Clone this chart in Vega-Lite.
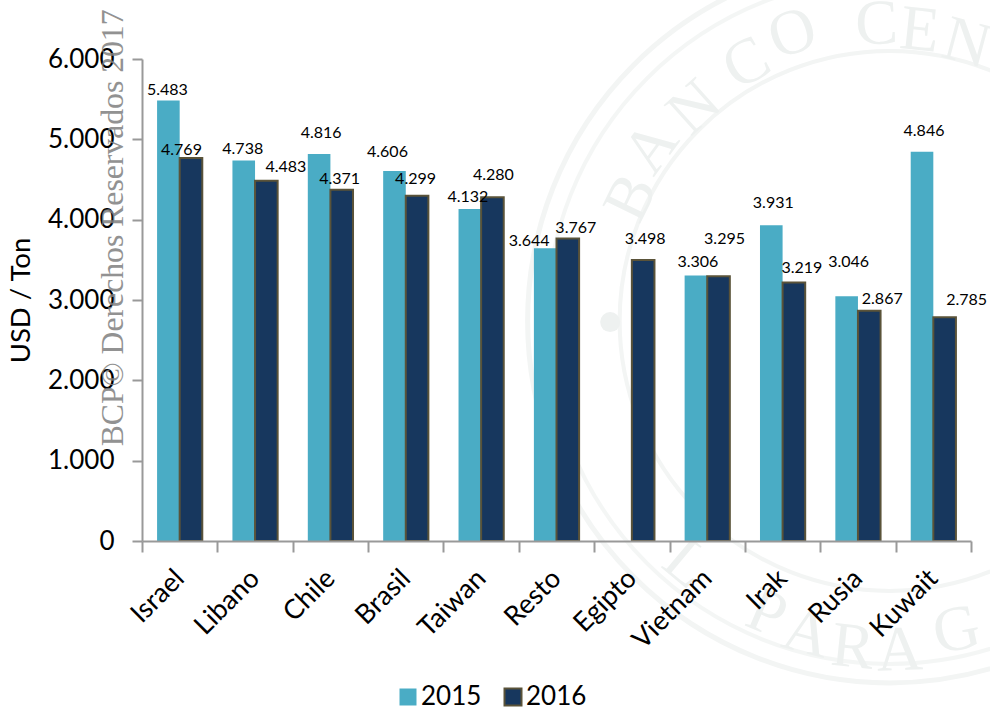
{"$schema":"https://vega.github.io/schema/vega-lite/v6.json","width":829,"height":482,"autosize":"none","padding":{"left":142,"top":59,"right":19,"bottom":167},"background":"white","config":{"view":{"stroke":null},"font":"Lato"},
"layer":[
{"data":{"values":[{"r":"a"}]},"mark":{"type":"point","filled":false,"stroke":"#eef1f0","strokeWidth":5,"size":524176},"encoding":{"x":{"datum":"Kuwait"},"xOffset":{"value":-6},"y":{"datum":2740,"type":"quantitative"}}},
{"data":{"values":[{"r":"a"}]},"mark":{"type":"point","filled":false,"stroke":"#f0f3f2","strokeWidth":4,"size":470596},"encoding":{"x":{"datum":"Kuwait"},"xOffset":{"value":-6},"y":{"datum":2740,"type":"quantitative"}}},
{"data":{"values":[{"r":"a"}]},"mark":{"type":"point","filled":false,"stroke":"#eef1f0","strokeWidth":4,"size":291600},"encoding":{"x":{"datum":"Kuwait"},"xOffset":{"value":-6},"y":{"datum":2740,"type":"quantitative"}}},
{"data":{"values":[{"r":"a"}]},"mark":{"type":"point","filled":true,"opacity":1,"color":"#eef1f0","size":400},"encoding":{"x":{"datum":"Egipto"},"xOffset":{"value":16},"y":{"datum":2725,"type":"quantitative"}}},
{"data":{"values":[{"r":"a"}]},"mark":{"type":"text","text":"B","font":"Liberation Serif","fontSize":64,"color":"#eef1f0","baseline":"middle","angle":-64},"encoding":{"x":{"datum":"Kuwait"},"xOffset":{"value":-264},"y":{"datum":2740,"type":"quantitative"},"yOffset":{"value":-123}}},
{"data":{"values":[{"r":"a"}]},"mark":{"type":"text","text":"A","font":"Liberation Serif","fontSize":64,"color":"#eef1f0","baseline":"middle","angle":-54},"encoding":{"x":{"datum":"Kuwait"},"xOffset":{"value":-244},"y":{"datum":2740,"type":"quantitative"},"yOffset":{"value":-173}}},
{"data":{"values":[{"r":"a"}]},"mark":{"type":"text","text":"N","font":"Liberation Serif","fontSize":64,"color":"#eef1f0","baseline":"middle","angle":-42},"encoding":{"x":{"datum":"Kuwait"},"xOffset":{"value":-201},"y":{"datum":2740,"type":"quantitative"},"yOffset":{"value":-213}}},
{"data":{"values":[{"r":"a"}]},"mark":{"type":"text","text":"C","font":"Liberation Serif","fontSize":64,"color":"#eef1f0","baseline":"middle","angle":-29},"encoding":{"x":{"datum":"Kuwait"},"xOffset":{"value":-149},"y":{"datum":2740,"type":"quantitative"},"yOffset":{"value":-257}}},
{"data":{"values":[{"r":"a"}]},"mark":{"type":"text","text":"O","font":"Liberation Serif","fontSize":64,"color":"#eef1f0","baseline":"middle","angle":-19},"encoding":{"x":{"datum":"Kuwait"},"xOffset":{"value":-103},"y":{"datum":2740,"type":"quantitative"},"yOffset":{"value":-287}}},
{"data":{"values":[{"r":"a"}]},"mark":{"type":"text","text":"C","font":"Liberation Serif","fontSize":64,"color":"#eef1f0","baseline":"middle","angle":-2},"encoding":{"x":{"datum":"Kuwait"},"xOffset":{"value":-19},"y":{"datum":2740,"type":"quantitative"},"yOffset":{"value":-296}}},
{"data":{"values":[{"r":"a"}]},"mark":{"type":"text","text":"E","font":"Liberation Serif","fontSize":64,"color":"#eef1f0","baseline":"middle","angle":6},"encoding":{"x":{"datum":"Kuwait"},"xOffset":{"value":24},"y":{"datum":2740,"type":"quantitative"},"yOffset":{"value":-290}}},
{"data":{"values":[{"r":"a"}]},"mark":{"type":"text","text":"N","font":"Liberation Serif","fontSize":64,"color":"#eef1f0","baseline":"middle","angle":15},"encoding":{"x":{"datum":"Kuwait"},"xOffset":{"value":71},"y":{"datum":2740,"type":"quantitative"},"yOffset":{"value":-277}}},
{"data":{"values":[{"r":"a"}]},"mark":{"type":"text","text":"L","font":"Liberation Serif","fontSize":64,"color":"#eef1f0","baseline":"middle","angle":40},"encoding":{"x":{"datum":"Kuwait"},"xOffset":{"value":-209},"y":{"datum":2740,"type":"quantitative"},"yOffset":{"value":243}}},
{"data":{"values":[{"r":"a"}]},"mark":{"type":"text","text":"P","font":"Liberation Serif","fontSize":64,"color":"#eef1f0","baseline":"middle","angle":23},"encoding":{"x":{"datum":"Kuwait"},"xOffset":{"value":-129},"y":{"datum":2740,"type":"quantitative"},"yOffset":{"value":293}}},
{"data":{"values":[{"r":"a"}]},"mark":{"type":"text","text":"A","font":"Liberation Serif","fontSize":64,"color":"#eef1f0","baseline":"middle","angle":15},"encoding":{"x":{"datum":"Kuwait"},"xOffset":{"value":-89},"y":{"datum":2740,"type":"quantitative"},"yOffset":{"value":313}}},
{"data":{"values":[{"r":"a"}]},"mark":{"type":"text","text":"R","font":"Liberation Serif","fontSize":64,"color":"#eef1f0","baseline":"middle","angle":6},"encoding":{"x":{"datum":"Kuwait"},"xOffset":{"value":-43},"y":{"datum":2740,"type":"quantitative"},"yOffset":{"value":327}}},
{"data":{"values":[{"r":"a"}]},"mark":{"type":"text","text":"A","font":"Liberation Serif","fontSize":64,"color":"#eef1f0","baseline":"middle","angle":-2},"encoding":{"x":{"datum":"Kuwait"},"xOffset":{"value":4},"y":{"datum":2740,"type":"quantitative"},"yOffset":{"value":330}}},
{"data":{"values":[{"r":"a"}]},"mark":{"type":"text","text":"G","font":"Liberation Serif","fontSize":64,"color":"#eef1f0","baseline":"middle","angle":-12},"encoding":{"x":{"datum":"Kuwait"},"xOffset":{"value":61},"y":{"datum":2740,"type":"quantitative"},"yOffset":{"value":310}}},
{"data":{"values":[
{"p":"Israel","a":"2015","v":5483},{"p":"Israel","a":"2016","v":4769},
{"p":"Libano","a":"2015","v":4738},{"p":"Libano","a":"2016","v":4483},
{"p":"Chile","a":"2015","v":4816},{"p":"Chile","a":"2016","v":4371},
{"p":"Brasil","a":"2015","v":4606},{"p":"Brasil","a":"2016","v":4299},
{"p":"Taiwan","a":"2015","v":4132},{"p":"Taiwan","a":"2016","v":4280},
{"p":"Resto","a":"2015","v":3644},{"p":"Resto","a":"2016","v":3767},
{"p":"Egipto","a":"2016","v":3498},
{"p":"Vietnam","a":"2015","v":3306},{"p":"Vietnam","a":"2016","v":3295},
{"p":"Irak","a":"2015","v":3931},{"p":"Irak","a":"2016","v":3219},
{"p":"Rusia","a":"2015","v":3046},{"p":"Rusia","a":"2016","v":2867},
{"p":"Kuwait","a":"2015","v":4846},{"p":"Kuwait","a":"2016","v":2785}]},
"transform":[{"calculate":"replace(format(datum.v,','),',','.')","as":"t"},{"calculate":"datum.p+datum.a","as":"k"}],
"encoding":{
"x":{"field":"p","type":"nominal","title":null,"scale":{"domain":["Israel","Libano","Chile","Brasil","Taiwan","Resto","Egipto","Vietnam","Irak","Rusia","Kuwait"],"paddingInner":0,"paddingOuter":0},"axis":{"zindex":1,"tickBand":"extent","labelAngle":-45,"labelAlign":"right","labelBaseline":"middle","labelFontSize":27,"labelColor":"#000","labelPadding":22,"labelFont":"Lato","domainColor":"#999","domainWidth":2,"tickColor":"#999","tickWidth":2,"tickSize":11,"grid":false,"labelOverlap":false}},
"xOffset":{"field":"a","type":"nominal","scale":{"domain":["2015","2016"],"paddingInner":0,"paddingOuter":0.667}},
"y":{"field":"v","type":"quantitative","title":"USD / Ton","scale":{"domain":[0,6000],"nice":false},"axis":{"values":[0,1000,2000,3000,4000,5000,6000],"labelExpr":"replace(format(datum.value,','),',','.')","labelFontSize":26,"labelColor":"#000","labelPadding":18,"labelFont":"Lato","titleFont":"Lato","titleFontSize":27.5,"titleFontWeight":"normal","titleColor":"#000","titlePadding":12,"domainColor":"#999","domainWidth":2,"tickColor":"#999","tickWidth":2,"tickSize":10,"grid":false}},
"text":{"field":"t"}},
"layer":[
{"mark":{"type":"bar","strokeWidth":2},"encoding":{"text":{"value":""},"fill":{"field":"a","type":"nominal","scale":{"domain":["2015","2016"],"range":["#4AACC5","#17375E"]},"legend":{"orient":"none","legendX":253,"legendY":625,"direction":"horizontal","title":null,"symbolType":"square","symbolSize":289,"labelFontSize":26,"labelColor":"#000","labelFont":"Lato","labelOffset":0,"columnPadding":18,"symbolStrokeWidth":2}},"stroke":{"field":"a","type":"nominal","scale":{"domain":["2015","2016"],"range":["transparent","#5A5339"]}}}},
{"transform":[{"filter":"datum.k=='Israel2015'"}],"mark":{"type":"text","fontSize":16,"color":"#000","baseline":"middle","dx":-1,"dy":-11}},
{"transform":[{"filter":"datum.k=='Israel2016'"}],"mark":{"type":"text","fontSize":16,"color":"#000","baseline":"middle","dx":-9.5,"dy":-8}},
{"transform":[{"filter":"datum.k=='Libano2015'"}],"mark":{"type":"text","fontSize":16,"color":"#000","baseline":"middle","dx":-1,"dy":-11}},
{"transform":[{"filter":"datum.k=='Libano2016'"}],"mark":{"type":"text","fontSize":16,"color":"#000","baseline":"middle","dx":19.5,"dy":-14}},
{"transform":[{"filter":"datum.k=='Chile2015'"}],"mark":{"type":"text","fontSize":16,"color":"#000","baseline":"middle","dx":2,"dy":-21}},
{"transform":[{"filter":"datum.k=='Chile2016'"}],"mark":{"type":"text","fontSize":16,"color":"#000","baseline":"middle","dx":-2,"dy":-11}},
{"transform":[{"filter":"datum.k=='Brasil2015'"}],"mark":{"type":"text","fontSize":16,"color":"#000","baseline":"middle","dx":-7,"dy":-19}},
{"transform":[{"filter":"datum.k=='Brasil2016'"}],"mark":{"type":"text","fontSize":16,"color":"#000","baseline":"middle","dx":-1.5,"dy":-17}},
{"transform":[{"filter":"datum.k=='Taiwan2015'"}],"mark":{"type":"text","fontSize":16,"color":"#000","baseline":"middle","dx":-2,"dy":-12}},
{"transform":[{"filter":"datum.k=='Taiwan2016'"}],"mark":{"type":"text","fontSize":16,"color":"#000","baseline":"middle","dx":1,"dy":-22}},
{"transform":[{"filter":"datum.k=='Resto2015'"}],"mark":{"type":"text","fontSize":16,"color":"#000","baseline":"middle","dx":-16,"dy":-7}},
{"transform":[{"filter":"datum.k=='Resto2016'"}],"mark":{"type":"text","fontSize":16,"color":"#000","baseline":"middle","dx":8,"dy":-10}},
{"transform":[{"filter":"datum.k=='Egipto2016'"}],"mark":{"type":"text","fontSize":16,"color":"#000","baseline":"middle","dx":2,"dy":-21}},
{"transform":[{"filter":"datum.k=='Vietnam2015'"}],"mark":{"type":"text","fontSize":16,"color":"#000","baseline":"middle","dx":2,"dy":-13}},
{"transform":[{"filter":"datum.k=='Vietnam2016'"}],"mark":{"type":"text","fontSize":16,"color":"#000","baseline":"middle","dx":6,"dy":-37}},
{"transform":[{"filter":"datum.k=='Irak2015'"}],"mark":{"type":"text","fontSize":16,"color":"#000","baseline":"middle","dx":2,"dy":-22}},
{"transform":[{"filter":"datum.k=='Irak2016'"}],"mark":{"type":"text","fontSize":16,"color":"#000","baseline":"middle","dx":8,"dy":-14}},
{"transform":[{"filter":"datum.k=='Rusia2015'"}],"mark":{"type":"text","fontSize":16,"color":"#000","baseline":"middle","dx":2,"dy":-34}},
{"transform":[{"filter":"datum.k=='Rusia2016'"}],"mark":{"type":"text","fontSize":16,"color":"#000","baseline":"middle","dx":13,"dy":-12}},
{"transform":[{"filter":"datum.k=='Kuwait2015'"}],"mark":{"type":"text","fontSize":16,"color":"#000","baseline":"middle","dx":2,"dy":-21}},
{"transform":[{"filter":"datum.k=='Kuwait2016'"}],"mark":{"type":"text","fontSize":16,"color":"#000","baseline":"middle","dx":22,"dy":-17}}
]},
{"data":{"values":[{"t":"BCP© Derechos Reservados 2017"}]},"mark":{"type":"text","font":"Liberation Serif","fontSize":31.7,"color":"#808080","opacity":0.85,"angle":270,"align":"center","baseline":"alphabetic"},"encoding":{"text":{"field":"t"},"x":{"datum":"Israel"},"xOffset":{"value":-19},"y":{"datum":3898,"type":"quantitative"}}}
]}
